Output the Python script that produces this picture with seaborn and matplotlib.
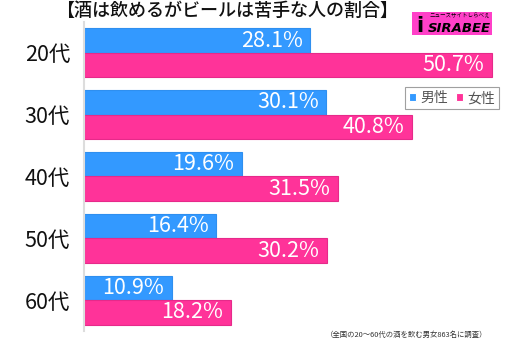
import matplotlib
matplotlib.use("Agg")
import matplotlib.pyplot as plt
import seaborn as sns
import pandas as pd
from matplotlib.patches import Rectangle

ages = ["20代", "30代", "40代", "50代", "60代"]
male = [28.1, 30.1, 19.6, 16.4, 10.9]
female = [50.7, 40.8, 31.5, 30.2, 18.2]
series_names = ["男性", "女性"]
title = "【酒は飲めるがビールは苦手な人の割合】"
footnote = "（全国の20～60代の酒を飲む男女863名に調査）"

sns.set_theme(style="white")
plt.rcParams["font.family"] = ["Noto Sans CJK JP", "DejaVu Sans"]

df = pd.DataFrame({
    "age": ages * 2,
    "value": male + female,
    "sex": [series_names[0]] * len(ages) + [series_names[1]] * len(ages),
})

blue = "#3399ff"
pink = "#ff3399"

fig = plt.figure(figsize=(5.12, 3.39), dpi=100)
ax = fig.add_axes([84 / 512, 1 - 331 / 339, (497 - 84) / 512, (331 - 22) / 339])

sns.barplot(data=df, y="age", x="value", hue="sex", orient="h",
            palette=[blue, pink], width=0.79, ax=ax, legend=True,
            linewidth=0.8, saturation=1)
for patch, c in zip(ax.patches, [blue] * 5 + [pink] * 5):
    patch.set_edgecolor("#e62a8a" if c == pink else "#2f8fef")

ax.set_xlim(0, 51.3)
ax.set_ylim(4.5, -0.5)
ax.set_xlabel("")
ax.set_ylabel("")
ax.set_xticks([])
for s in ["top", "right", "bottom"]:
    ax.spines[s].set_visible(False)
ax.spines["left"].set_color("#dddddd")
ax.spines["left"].set_linewidth(1.5)
ax.tick_params(axis="y", length=0, pad=10, labelsize=15.5)
for t in ax.get_yticklabels():
    t.set_color("#111111")

for container in ax.containers:
    for patch in container.patches:
        w = patch.get_width()
        y = patch.get_y() + patch.get_height() / 2
        ax.annotate(f"{w:.1f}%", xy=(w, y), xytext=(-5.5, 0),
                    textcoords="offset points", ha="right", va="center",
                    color="white", fontsize=15.5)

leg = ax.legend(loc="upper left", bbox_to_anchor=((405 - 84) / 413, 1 - (87 - 22) / 309),
                ncol=2, fontsize=10, frameon=True, fancybox=False,
                handlelength=0.5, handleheight=0.5, handletextpad=0.3,
                columnspacing=0.6, borderpad=0.3, borderaxespad=0)
leg.get_frame().set_edgecolor("#888888")
leg.get_frame().set_linewidth(0.8)
for txt in leg.get_texts():
    txt.set_color("#555555")

fig.text(227 / 512, 1 - 11 / 339, title, ha="center", va="center",
         fontsize=13, fontweight="medium", color="#111111")

fig.patches.append(Rectangle((412 / 512, 1 - 35 / 339), 80 / 512, 23 / 339,
                             transform=fig.transFigure, facecolor="#ff40c8",
                             edgecolor="none", figure=fig))
fig.text(491 / 512, 1 - 29 / 339, "SIRABEE", ha="right", va="center",
         fontsize=9.5, fontweight="bold", fontstyle="italic", color="black",
         family="DejaVu Sans")
fig.text(490 / 512, 1 - 16 / 339, "ニュースサイトしらべぇ", ha="right", va="center",
         fontsize=4, color="black")
fig.text(420 / 512, 1 - 26 / 339, "i", ha="center", va="center",
         fontsize=15, fontweight="bold", color="black", family="DejaVu Sans")

fig.text(487 / 512, 1 - 335 / 339, footnote, ha="right", va="center",
         fontsize=5.3, color="#333333")

fig.savefig("out.png", dpi=100)
